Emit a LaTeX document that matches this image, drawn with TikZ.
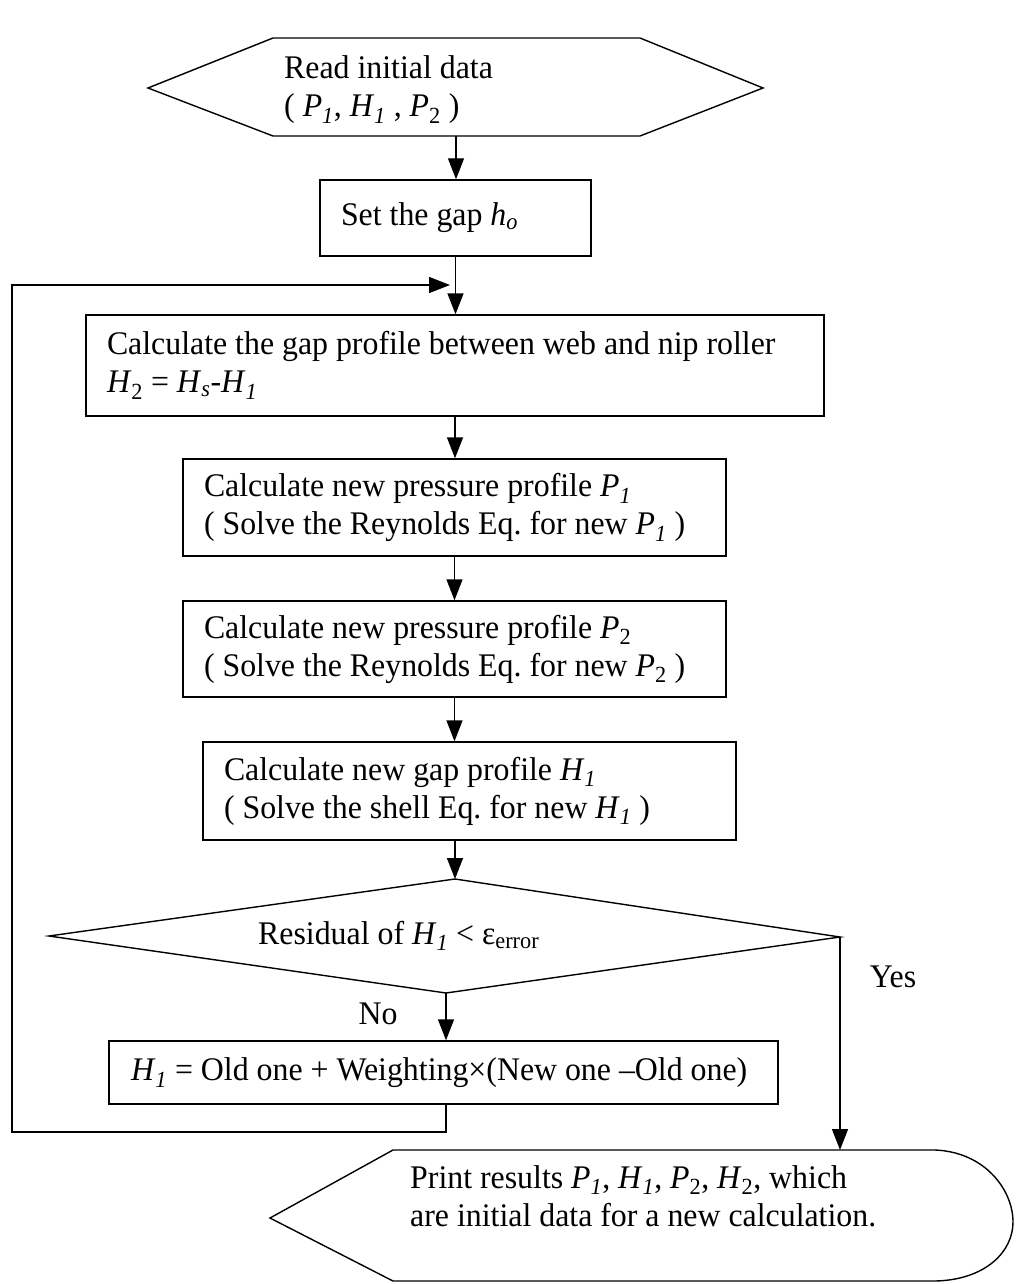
\documentclass[tikz,border=0pt]{standalone}
\usepackage{fontspec}
\setmainfont[FakeStretch=0.965]{Liberation Serif}
\usetikzlibrary{arrows.meta}
\newcommand{\vi}[2]{\textit{#1}\textsubscript{\textit{#2}}}
\newcommand{\vu}[2]{\textit{#1}\textsubscript{#2}}
\begin{document}
\begin{tikzpicture}[x=1pt,y=-1pt,
  every node/.style={font=\fontsize{33}{38}\selectfont\frenchspacing},
  ln/.style={line width=1.4pt, line join=miter},
  arr/.style={ln, -{Triangle[length=21pt,width=16pt]}},
  box/.style={ln, draw, rectangle, inner xsep=21pt, inner ysep=0pt, align=flush left},
  lbl/.style={inner sep=0pt, align=left}]
\useasboundingbox (0,0) rectangle (1020,1284);
\fill[white] (0,0) rectangle (1020,1284);

% read (hexagon)
\coordinate (hL) at (148,88);
\coordinate (hTL) at (273,38);
\coordinate (hTR) at (640,38);
\coordinate (hR) at (763,88);
\coordinate (hBR) at (640,136);
\coordinate (hBL) at (273,136);
\coordinate (hB) at (456,136);
\draw[ln] (hL) -- (hTL) -- (hTR) -- (hR) -- (hBR) -- (hBL) -- cycle;
\node[lbl, anchor=west] (tread) at (284,90) {Read initial data\\( \vi{P}{1}, \vi{H}{1} , \vu{P}{2} )};

% boxes
\node[box, minimum width=271pt, minimum height=76pt, text width=229pt] (bset) at (455.5,218) {Set the gap \vi{h}{o}};
\node[box, minimum width=738pt, minimum height=101pt, text width=696pt] (bcalc) at (455,365.5) {Calculate the gap profile between web and nip roller\\\vu{H}{2} = \vi{H}{s}-\vi{H}{1}};
\node[box, minimum width=543pt, minimum height=97pt, text width=501pt] (bp1) at (454.5,507.5) {Calculate new pressure profile \vi{P}{1}\\( Solve the Reynolds Eq. for new \vi{P}{1} )};
\node[box, minimum width=543pt, minimum height=96pt, text width=501pt] (bp2) at (454.5,649) {Calculate new pressure profile \vu{P}{2}\\( Solve the Reynolds Eq. for new \vu{P}{2} )};
\node[box, minimum width=533pt, minimum height=98pt, text width=491pt] (bh1) at (469.5,791) {Calculate new gap profile \vi{H}{1}\\( Solve the shell Eq. for new \vi{H}{1} )};
\node[box, minimum width=669pt, minimum height=63pt, text width=625pt, inner xsep=22pt] (bupd) at (443.5,1072.5) {\vi{H}{1} = Old one + Weighting×(New one –Old one)};

% decision
\coordinate (dT) at (455,879);
\coordinate (dR) at (840,937);
\coordinate (dB) at (446,993);
\coordinate (dL) at (49,936);
\draw[ln] (dT) -- (dR) -- (dB) -- (dL) -- cycle;
\node[lbl, anchor=west] (tdec) at (258,936) {Residual of \vi{H}{1} < ε\textsubscript{error}};

% display (print results)
\coordinate (pL) at (270,1218);
\coordinate (pTL) at (393,1150);
\coordinate (pTR) at (935,1150);
\coordinate (pR) at (1013,1222);
\coordinate (pBR) at (935,1281);
\coordinate (pBL) at (393,1281);
\coordinate (pT) at (840,1150);
\draw[ln] (pL) -- (pTL) -- (pTR) .. controls (985,1152) and (1013,1190) .. (pR)
  .. controls (1013,1252) and (985,1280) .. (pBR) -- (pBL) -- cycle;
\node[lbl, anchor=west] (tprint) at (410,1196) {Print results \vi{P}{1}, \vi{H}{1}, \vu{P}{2}, \vu{H}{2}, which\\are initial data for a new calculation.};

% labels
\node[lbl] (yes) at (893,977) {Yes};
\node[lbl] (no) at (378,1014) {No};

% connectors
\draw[arr] (hB) -- (hB |- bset.north);
\draw[arr] (bset.south) -- (bset.south |- bcalc.north);
\draw[arr] (bcalc.south) -- (bcalc.south |- bp1.north);
\draw[arr] (bp1.south) -- (bp1.south |- bp2.north);
\draw[arr] (bp2.south) -- (bp2.south |- bh1.north);
\draw[arr] (dT |- bh1.south) -- (dT);
\draw[arr] (dB) -- (dB |- bupd.north);
\draw[arr] (dR) -- (pT);
\coordinate (fb1) at (446,1132);
\coordinate (fb2) at (12,1132);
\coordinate (fb3) at (12,285);
\coordinate (merge) at (456,285);
\draw[arr, shorten >=6pt] (fb1 |- bupd.south) -- (fb1) -- (fb2) -- (fb3) -- (merge);
\end{tikzpicture}
\end{document}
